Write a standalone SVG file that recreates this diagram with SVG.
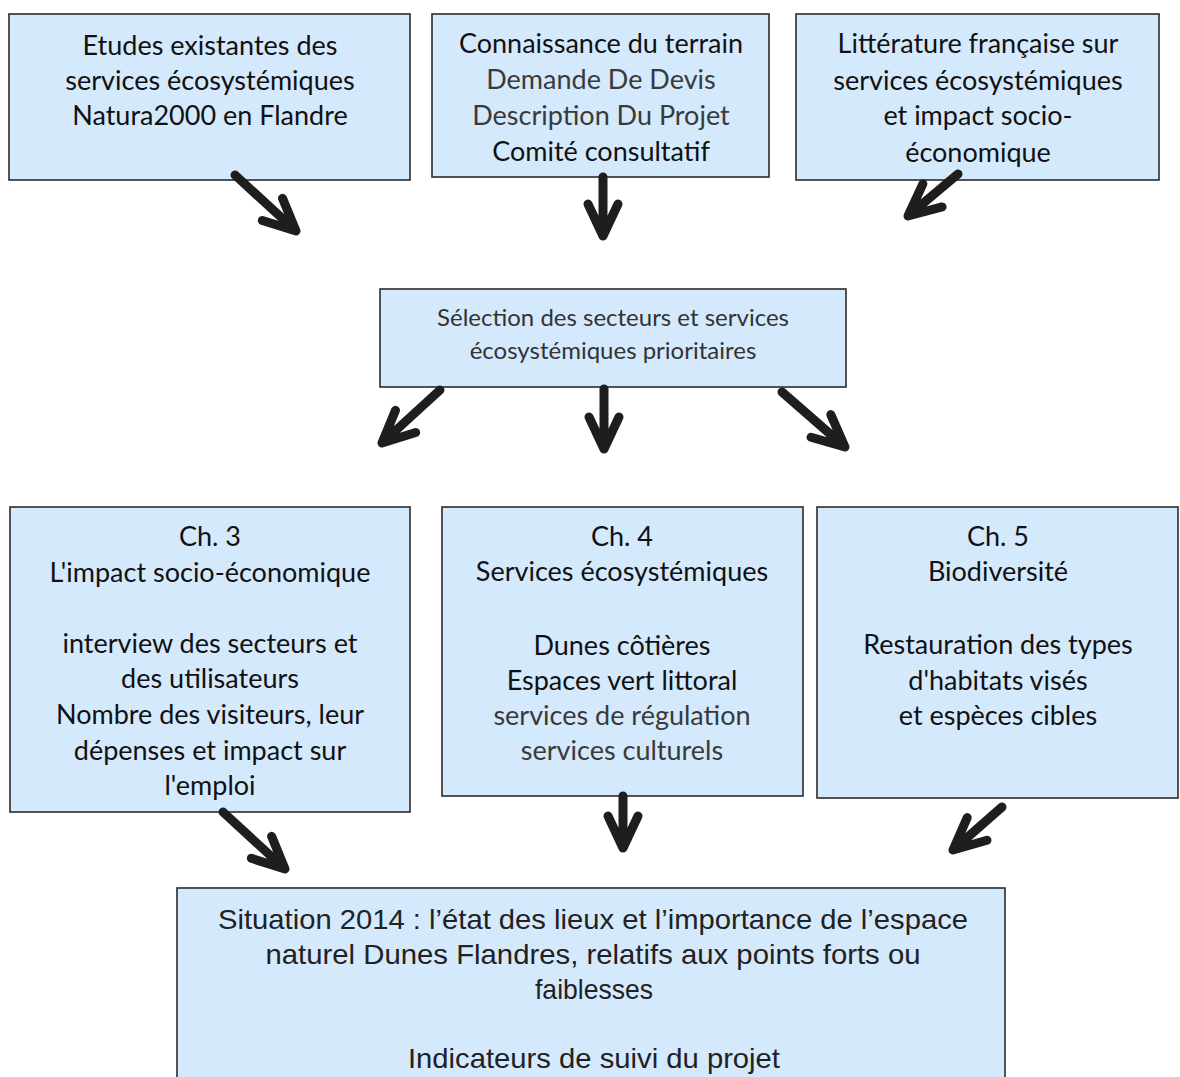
<svg xmlns="http://www.w3.org/2000/svg" width="1180" height="1077" viewBox="0 0 1180 1077">
<style>
.box{fill:#d5e9fd;stroke:#2b2b2b;stroke-width:1.6}
.t{font-family:Lato,"Open Sans","Noto Sans",sans-serif;font-size:27px;fill:#111;text-anchor:middle}
.g{fill:#3a3a3a}
.s{font-size:24px;fill:#333}
.a{font-family:"Liberation Sans Narrow","Liberation Sans",Arial,sans-serif;font-size:28px;fill:#222;text-anchor:middle}
.arr{fill:none;stroke:#1e1e1e;stroke-width:9;stroke-linecap:round;stroke-linejoin:round}
</style>
<rect x="0" y="0" width="1180" height="1077" fill="#ffffff"/>
<g id="n1">
<rect class="box" x="9" y="14" width="401" height="166"/>
<text class="t" x="210" y="55">Etudes existantes des</text>
<text class="t" x="210" y="90">services écosystémiques</text>
<text class="t" x="210" y="125">Natura2000 en Flandre</text>
</g>
<g id="n2">
<rect class="box" x="432" y="14" width="337" height="163"/>
<text class="t" x="601" y="53">Connaissance du terrain</text>
<text class="t g" x="601" y="89">Demande De Devis</text>
<text class="t g" x="601" y="125">Description Du Projet</text>
<text class="t" x="601" y="161">Comité consultatif</text>
</g>
<g id="n3">
<rect class="box" x="796" y="14" width="363" height="166"/>
<text class="t" x="978" y="53">Littérature française sur</text>
<text class="t" x="978" y="90">services écosystémiques</text>
<text class="t" x="978" y="125">et impact socio-</text>
<text class="t" x="978" y="162">économique</text>
</g>
<g id="n4">
<rect class="box" x="380" y="289" width="466" height="98"/>
<text class="t s" x="613" y="326">Sélection des secteurs et services</text>
<text class="t s" x="613" y="359">écosystémiques prioritaires</text>
</g>
<g id="n5">
<rect class="box" x="10" y="507" width="400" height="305"/>
<text class="t" x="210" y="546">Ch. 3</text>
<text class="t" x="210" y="582">L'impact socio-économique</text>
<text class="t" x="210" y="653">interview des secteurs et</text>
<text class="t" x="210" y="688">des utilisateurs</text>
<text class="t" x="210" y="724">Nombre des visiteurs, leur</text>
<text class="t" x="210" y="760">dépenses et impact sur</text>
<text class="t" x="210" y="795">l'emploi</text>
</g>
<g id="n6">
<rect class="box" x="442" y="507" width="361" height="289"/>
<text class="t" x="622" y="546">Ch. 4</text>
<text class="t" x="622" y="581">Services écosystémiques</text>
<text class="t" x="622" y="655">Dunes côtières</text>
<text class="t" x="622" y="690">Espaces vert littoral</text>
<text class="t g" x="622" y="725">services de régulation</text>
<text class="t g" x="622" y="760">services culturels</text>
</g>
<g id="n7">
<rect class="box" x="817" y="507" width="361" height="291"/>
<text class="t" x="998" y="546">Ch. 5</text>
<text class="t" x="998" y="581">Biodiversité</text>
<text class="t" x="998" y="654">Restauration des types</text>
<text class="t" x="998" y="690">d'habitats visés</text>
<text class="t" x="998" y="725">et espèces cibles</text>
</g>
<g id="n8">
<rect class="box" x="177" y="888" width="828" height="200"/>
<text class="a" x="593" y="929" textLength="750" lengthAdjust="spacingAndGlyphs">Situation 2014 : l’état des lieux et l’importance de l’espace</text>
<text class="a" x="593" y="964" textLength="655" lengthAdjust="spacingAndGlyphs">naturel Dunes Flandres, relatifs aux points forts ou</text>
<text class="a" x="594" y="999" textLength="118" lengthAdjust="spacingAndGlyphs">faiblesses</text>
<text class="a" x="594" y="1068" textLength="372" lengthAdjust="spacingAndGlyphs">Indicateurs de suivi du projet</text>
</g>
<g id="connectors">
<path class="arr" d="M235,175 L296,231 M262.3,220.5 L296,231 L282.5,198.3"/>
<path class="arr" d="M603,177 L603,236 M588,204 L603,236 L618,204"/>
<path class="arr" d="M958,174 L908,216 M922.9,183.9 L908,216 L942.1,206.9"/>
<path class="arr" d="M440,390 L382,443 M395.5,410.3 L382,443 L415.7,432.5"/>
<path class="arr" d="M604,389 L604,449 M589,417 L604,449 L619,417"/>
<path class="arr" d="M782,392 L845,447 M811,437.2 L845,447 L830.8,414.6"/>
<path class="arr" d="M223,812 L285,869 M251.3,858.3 L285,869 L271.6,836.3"/>
<path class="arr" d="M623,796 L623,848 M608,816 L623,848 L638,816"/>
<path class="arr" d="M1002,807 L953,850 M967.2,817.6 L953,850 L987,840.2"/>
</g>
</svg>
